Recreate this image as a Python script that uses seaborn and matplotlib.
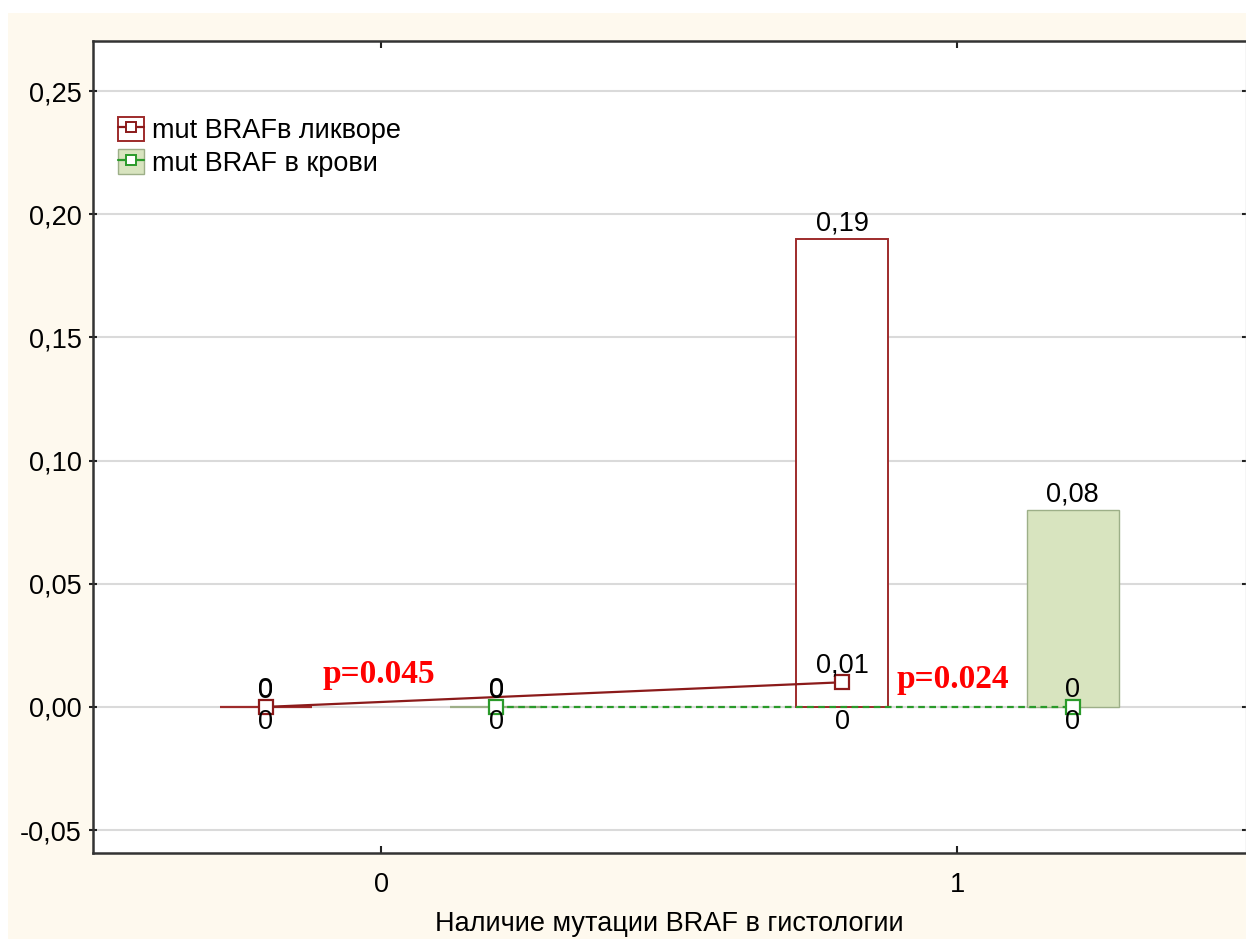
import numpy as np
import pandas as pd
import matplotlib
matplotlib.use("Agg")
import matplotlib.pyplot as plt
from matplotlib.patches import Rectangle, Patch
from matplotlib.lines import Line2D
from matplotlib.ticker import FuncFormatter, FixedLocator
import seaborn as sns

# ---- data ----
groups = ["0", "1"]
series = ["mut BRAFв ликворе", "mut BRAF в крови"]
liquor_max = [0.0, 0.19]
liquor_median = [0.0, 0.01]
liquor_min = [0.0, 0.0]
blood_max = [0.0, 0.08]
blood_median = [0.0, 0.0]
blood_min = [0.0, 0.0]
p_values = ["p=0.045", "p=0.024"]
y_ticks = [-0.05, 0.0, 0.05, 0.10, 0.15, 0.20, 0.25]
x_label = "Наличие мутации BRAF в гистологии"

# ---- styling ----
sns.set_style("white")
plt.rcParams["font.family"] = ["Liberation Sans", "DejaVu Sans"]
plt.rcParams["text.color"] = "black"
plt.rcParams["xtick.color"] = "black"
plt.rcParams["ytick.color"] = "black"
plt.rcParams["axes.labelcolor"] = "black"
FS = 19.5
CREAM = "#FEF9EE"
RED = "#8B1A1A"
RED_EDGE = "#9E2B2B"
GREEN = "#2A9A2A"
GREEN_FILL = "#D8E4BF"
GREEN_EDGE = "#9DAF88"

fig = plt.figure(figsize=(12.46, 9.39), dpi=100, facecolor="white")
fig.patches.append(Rectangle((8 / 1246, 0), 1, 1 - 13 / 939, transform=fig.transFigure,
                             facecolor=CREAM, edgecolor="none", zorder=-10))
ax = fig.add_axes([93 / 1246, 1 - 853 / 939, 1152.5 / 1246, (853 - 41) / 939])
ax.set_facecolor("white")

df = pd.DataFrame({
    "group": groups * 2,
    "series": [series[0]] * len(groups) + [series[1]] * len(groups),
    "top": liquor_max + blood_max,
    "median": liquor_median + blood_median,
    "bottom": liquor_min + blood_min,
})

sns.barplot(data=df, x="group", y="top", hue="series", hue_order=series,
            order=groups, width=0.8, gap=0.6, dodge=True, errorbar=None,
            palette=["white", GREEN_FILL], legend=False, ax=ax, zorder=3)

styles = [dict(fc="white", ec=RED_EDGE, lw=1.4), dict(fc=GREEN_FILL, ec=GREEN_EDGE, lw=1.0)]
for cont, st in zip(ax.containers, styles):
    for bar in cont:
        bar.set_facecolor(st["fc"])
        bar.set_edgecolor(st["ec"])
        bar.set_linewidth(st["lw"])
        if bar.get_height() == 0:
            bar.set_linewidth(1.6)

# median markers joined across groups
offsets = [-0.2, 0.2]
idx = np.arange(len(groups))
line_styles = [dict(color=RED, ls="-"), dict(color=GREEN, ls=(0, (3, 2)))]
medians = [liquor_median, blood_median]
for off, med, st in zip(offsets, medians, line_styles):
    sns.lineplot(x=idx + off, y=med, ax=ax, color=st["color"], linestyle=st["ls"],
                 linewidth=1.6, marker="s", markersize=9.5, markerfacecolor="white",
                 markeredgecolor=st["color"], markeredgewidth=1.6, zorder=6)

# value labels: top, median, bottom of each box
fmt = lambda v: "0" if v == 0 else f"{v:.2f}".replace(".", ",")
tops = [liquor_max, blood_max]
bots = [liquor_min, blood_min]
for off, tp, md, bt in zip(offsets, tops, medians, bots):
    for i in idx:
        x = i + off
        ax.annotate(fmt(tp[i]), (x, tp[i]), xytext=(0, 2), textcoords="offset points",
                    ha="center", va="bottom", fontsize=FS, zorder=7)
        ax.annotate(fmt(md[i]), (x, md[i]), xytext=(0, 3), textcoords="offset points",
                    ha="center", va="bottom", fontsize=FS, zorder=7)
        ax.annotate(fmt(bt[i]), (x, bt[i]), xytext=(0, -1.5), textcoords="offset points",
                    ha="center", va="top", fontsize=FS, zorder=7)

# significance notes
p_pos = [(-0.102, 0.0097), (0.894, 0.0077)]
for txt, (px, py) in zip(p_values, p_pos):
    ax.text(px, py, txt, color="#FF0000", fontsize=24, fontweight="bold",
            family=["Liberation Serif", "DejaVu Serif"], va="baseline", ha="left", zorder=8)

# axes
ax.set_xlim(-0.5, 1.5)
ax.set_ylim(-0.0593, 0.2703)
ax.yaxis.set_major_locator(FixedLocator(y_ticks))
ax.yaxis.set_major_formatter(FuncFormatter(lambda v, _: f"{v:.2f}".replace(".", ",")))
ax.grid(axis="y", color="#DADADA", linewidth=1.5)
ax.grid(axis="x", visible=False)
ax.set_axisbelow(True)
ax.set_xlabel(x_label, fontsize=FS, labelpad=9)
ax.set_ylabel("")
ax.tick_params(axis="y", direction="inout", length=6, width=1.5, labelsize=FS, pad=5,
               left=True, right=True, color="#222222")
ax.tick_params(axis="x", direction="in", length=5, width=1.5, labelsize=FS, pad=14,
               bottom=True, top=True, color="#222222")
for side in ["left", "bottom", "top"]:
    ax.spines[side].set_color("#333333")
    ax.spines[side].set_linewidth(1.8)
ax.spines["right"].set_color("#CCCCCC")
ax.spines["right"].set_linewidth(1.0)

# legend
handles = [
    (Patch(facecolor="white", edgecolor=RED_EDGE, linewidth=1.4),
     Line2D([], [], color=RED, lw=1.6, marker="s", markersize=7,
            markerfacecolor="white", markeredgecolor=RED, markeredgewidth=1.4)),
    (Patch(facecolor=GREEN_FILL, edgecolor=GREEN_EDGE, linewidth=1.0),
     Line2D([], [], color=GREEN, lw=1.6, marker="s", markersize=7,
            markerfacecolor="white", markeredgecolor=GREEN, markeredgewidth=1.4)),
]
ax.legend(handles, series, loc="upper left", bbox_to_anchor=(0.022, 0.907),
          frameon=False, fontsize=FS, handlelength=0.95, handleheight=1.0,
          handletextpad=0.3, labelspacing=0.2, borderpad=0, borderaxespad=0)

fig.savefig("out.png", dpi=100, facecolor="white")
